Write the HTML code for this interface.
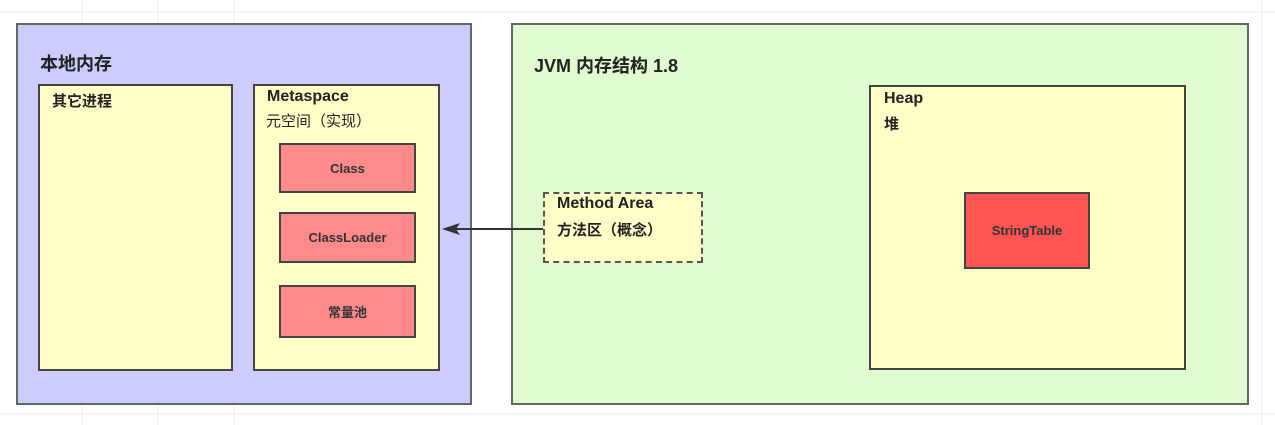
<!DOCTYPE html>
<html><head><meta charset="utf-8"><style>
body{margin:0;width:1275px;height:425px;background:#fff;position:relative;overflow:hidden;font-family:"Liberation Sans","Noto Sans CJK SC",sans-serif;font-weight:bold;color:#222}
div{position:absolute;box-sizing:border-box}
.b{border:2px solid #444}
.r{background:#ff8a8a;display:flex;align-items:center;justify-content:center;font-size:13px;color:#333}
.t{border:0;white-space:nowrap}
</style></head><body>
<svg style="position:absolute;left:0;top:0" width="1275" height="425">
<g stroke="#eee" stroke-width="1">
<line x1="0" y1="12" x2="1275" y2="12"/><line x1="0" y1="414" x2="1275" y2="414"/>
<line x1="82" y1="0" x2="82" y2="425"/><line x1="158" y1="0" x2="158" y2="425"/><line x1="234" y1="0" x2="234" y2="425"/><line x1="1262" y1="0" x2="1262" y2="425"/>
</g></svg>
<div class="b" style="left:16px;top:23px;width:456px;height:382px;background:#ccccff;border-color:#666"></div>
<div class="t" style="left:40px;top:50px;font-size:18px">本地内存</div>
<div class="b" style="left:38px;top:84px;width:195px;height:287px;background:#ffffc8"></div>
<div class="t" style="left:52px;top:90px;font-size:15px">其它进程</div>
<div class="b" style="left:253px;top:84px;width:187px;height:287px;background:#ffffc8"></div>
<div class="t" style="left:267px;top:88px;font-size:16px">Metaspace</div>
<div class="t" style="left:266px;top:110px;font-size:15px;font-weight:normal">元空间（实现）</div>
<div class="b r" style="left:279px;top:143px;width:137px;height:50px">Class</div>
<div class="b r" style="left:279px;top:212px;width:137px;height:51px">ClassLoader</div>
<div class="b r" style="left:279px;top:285px;width:137px;height:53px">常量池</div>
<div class="b" style="left:511px;top:23px;width:738px;height:382px;background:#e0fbd0;border-color:#666"></div>
<div class="t" style="left:534px;top:52px;font-size:18px">JVM 内存结构 1.8</div>
<div class="b" style="left:543px;top:192px;width:160px;height:71px;background:#ffffc8;border-style:dashed;border-color:#555"></div>
<div class="t" style="left:557px;top:195px;font-size:16px">Method Area</div>
<div class="t" style="left:557px;top:219px;font-size:15px">方法区（概念）</div>
<div class="b" style="left:869px;top:85px;width:317px;height:285px;background:#ffffc8"></div>
<div class="t" style="left:884px;top:90px;font-size:16px">Heap</div>
<div class="t" style="left:884px;top:113px;font-size:15px">堆</div>
<div class="b r" style="left:964px;top:192px;width:126px;height:77px;background:#ff5555">StringTable</div>
<svg style="position:absolute;left:0;top:0" width="1275" height="425">
<line x1="543" y1="229" x2="455" y2="229" stroke="#333" stroke-width="2"/>
<polygon points="442,229 460,223 456,229 460,235" fill="#333"/>
</svg>
</body></html>
